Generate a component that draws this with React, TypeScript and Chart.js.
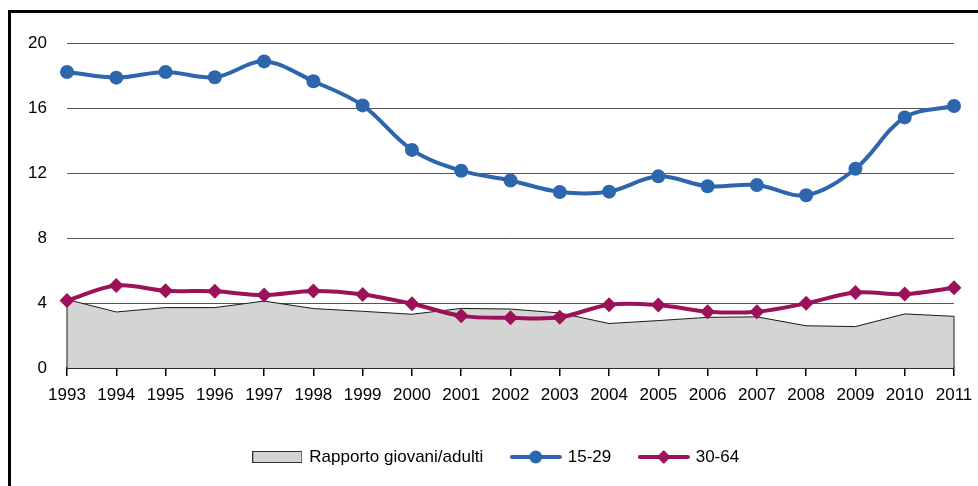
import React, { useEffect, useRef } from "react";
import { Chart, registerables } from "chart.js";

Chart.register(...registerables);

const years = ["1993","1994","1995","1996","1997","1998","1999","2000","2001","2002","2003","2004","2005","2006","2007","2008","2009","2010","2011"];
const ratio = [4.22,3.45,3.72,3.72,4.12,3.66,3.49,3.31,3.67,3.63,3.39,2.74,2.92,3.12,3.15,2.6,2.55,3.33,3.18];
const young = [18.23,17.88,18.23,17.9,18.88,17.66,16.17,13.43,12.15,11.55,10.84,10.86,11.8,11.19,11.27,10.64,12.27,15.43,16.13];
const adult = [4.15,5.08,4.76,4.72,4.49,4.74,4.53,3.96,3.21,3.09,3.12,3.9,3.88,3.47,3.47,3.98,4.65,4.55,4.94];
const yTicks = [0,4,8,12,16,20];
const seriesNames = ["Rapporto giovani/adulti","15-29","30-64"];

const BLUE = "#2d66ad";
const MAGENTA = "#9c1159";
const AREA = "#d4d4d4";
const FONT = "'Liberation Sans', Arial, sans-serif";
const FS = 17;

function boxIcon(): HTMLCanvasElement {
  const c = document.createElement("canvas");
  c.width = 50; c.height = 12;
  const g = c.getContext("2d")!;
  g.fillStyle = AREA;
  g.fillRect(0.5, 0.5, 49, 11);
  g.strokeStyle = "#333";
  g.lineWidth = 1;
  g.strokeRect(0.5, 0.5, 49, 11);
  return c;
}

function lineIcon(color: string, shape: "circle" | "diamond"): HTMLCanvasElement {
  const c = document.createElement("canvas");
  c.width = 52; c.height = 16;
  const g = c.getContext("2d")!;
  g.strokeStyle = color;
  g.lineWidth = 4;
  g.lineCap = "round";
  g.beginPath();
  g.moveTo(2, 8); g.lineTo(50, 8);
  g.stroke();
  g.fillStyle = color;
  g.beginPath();
  if (shape === "circle") {
    g.arc(26, 8, 6.5, 0, Math.PI * 2);
  } else {
    g.moveTo(26, 1); g.lineTo(33, 8); g.lineTo(26, 15); g.lineTo(19, 8); g.closePath();
  }
  g.fill();
  return c;
}

const areaSides = {
  id: "areaSides",
  afterDatasetDraw(chart: any, args: any) {
    if (args.index !== 0) return;
    const pts = args.meta.data;
    if (!pts || !pts.length) return;
    const y0 = chart.scales.y.getPixelForValue(0);
    const ctx = chart.ctx;
    ctx.save();
    ctx.strokeStyle = "#1a1a1a";
    ctx.lineWidth = 1;
    ctx.beginPath();
    const a = pts[0], b = pts[pts.length - 1];
    ctx.moveTo(a.x, a.y); ctx.lineTo(a.x, y0);
    ctx.moveTo(b.x, b.y); ctx.lineTo(b.x, y0);
    ctx.stroke();
    ctx.restore();
  },
};

const legendShift = {
  id: "legendShift",
  afterLayout(chart: any) {
    const lg = chart.legend;
    if (!lg) return;
    lg.left += 14;
    lg.right += 14;
  },
};

export default function App() {
  const ref = useRef<HTMLCanvasElement | null>(null);
  useEffect(() => {
    if (!ref.current) return;
    const icons = [boxIcon(), lineIcon(BLUE, "circle"), lineIcon(MAGENTA, "diamond")];
    const chart = new Chart(ref.current, {
      type: "line",
      data: {
        labels: years,
        datasets: [
          {
            label: seriesNames[0],
            data: ratio,
            fill: "origin",
            backgroundColor: AREA,
            borderColor: "#1a1a1a",
            borderWidth: 1,
            pointRadius: 0,
            tension: 0,
            order: 3,
          },
          {
            label: seriesNames[1],
            data: young,
            borderColor: BLUE,
            backgroundColor: BLUE,
            borderWidth: 4,
            pointRadius: 7,
            pointHoverRadius: 7,
            pointBorderWidth: 0,
            pointBackgroundColor: BLUE,
            pointStyle: "circle",
            tension: 0.35,
            fill: false,
            order: 1,
          },
          {
            label: seriesNames[2],
            data: adult,
            borderColor: MAGENTA,
            backgroundColor: MAGENTA,
            borderWidth: 4,
            pointRadius: 7.5,
            pointHoverRadius: 7.5,
            pointBorderWidth: 0,
            pointBackgroundColor: MAGENTA,
            pointStyle: "rectRot",
            tension: 0.35,
            fill: false,
            order: 2,
          },
        ],
      },
      options: {
        responsive: false,
        animation: false,
        devicePixelRatio: 1,
        layout: { padding: { top: 29, right: 24, bottom: 10.5, left: 0 } },
        plugins: {
          tooltip: { enabled: false },
          legend: {
            position: "bottom",
            align: "center",
            labels: {
              usePointStyle: true,
              pointStyleWidth: 47,
              padding: 29,
              color: "#000",
              font: { family: FONT, size: FS },
              generateLabels: () =>
                seriesNames.map((t, i) => ({
                  text: t,
                  fillStyle: "#000",
                  strokeStyle: "#000",
                  lineWidth: 0,
                  pointStyle: icons[i] as any,
                  hidden: false,
                  datasetIndex: i,
                  fontColor: "#000",
                })),
            },
          },
        },
        scales: {
          x: {
            type: "category",
            offset: false,
            afterFit: (s: any) => { s.height = 51.5; s.paddingRight = 0; s.paddingLeft = 0; },
            grid: {
              display: true,
              drawOnChartArea: false,
              drawTicks: true,
              tickLength: 8,
              color: "#000",
              lineWidth: 1.5,
            },
            border: { display: true, color: "#000", width: 1.5 },
            ticks: {
              autoSkip: false,
              maxRotation: 0,
              padding: 9,
              color: "#000",
              font: { family: FONT, size: FS },
            },
          },
          y: {
            min: 0,
            max: 20,
            afterFit: (s: any) => { s.width = 56; },
            afterBuildTicks: (s: any) => { s.ticks = yTicks.map((v) => ({ value: v })); },
            grid: { color: "#555", lineWidth: 1, drawTicks: false },
            border: { display: false },
            ticks: {
              padding: 20,
              color: "#000",
              font: { family: FONT, size: FS },
            },
          },
        },
      },
      plugins: [areaSides, legendShift],
    });
    return () => chart.destroy();
  }, []);

  return (
    <div
      style={{
        position: "fixed",
        left: 8,
        top: 10,
        width: 970,
        height: 476,
        boxSizing: "border-box",
        borderTop: "3px solid #000",
        borderLeft: "3px solid #000",
        background: "#fff",
      }}
    >
      <canvas ref={ref} width={967} height={473} style={{ display: "block" }} />
    </div>
  );
}
